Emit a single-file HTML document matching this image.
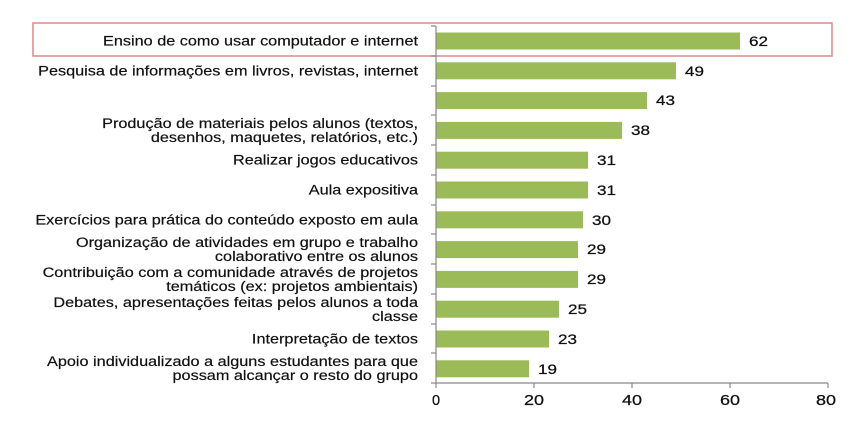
<!DOCTYPE html>
<html><head><meta charset="utf-8"><style>
html,body{margin:0;padding:0;background:#fff;}
svg{display:block;font-family:"Liberation Sans",Arial,sans-serif;}
</style></head><body>
<svg width="854" height="421" xmlns="http://www.w3.org/2000/svg">
<rect x="33" y="23" width="799" height="33" fill="none" stroke="#d98a8a" stroke-width="1.5"/>
<g fill="#9bbb59">
<rect x="436" y="32.5" width="304" height="17"/>
<rect x="436" y="62.3" width="240" height="17"/>
<rect x="436" y="92.1" width="211" height="17"/>
<rect x="436" y="121.9" width="186" height="17"/>
<rect x="436" y="151.7" width="152" height="17"/>
<rect x="436" y="181.5" width="152" height="17"/>
<rect x="436" y="211.3" width="147" height="17"/>
<rect x="436" y="241.1" width="142" height="17"/>
<rect x="436" y="270.9" width="142" height="17"/>
<rect x="436" y="300.7" width="123" height="17"/>
<rect x="436" y="330.5" width="113" height="17"/>
<rect x="436" y="360.3" width="93" height="17"/>
</g>
<g stroke="#888" stroke-width="1.2">
<line x1="436" y1="26" x2="436" y2="383"/>
<line x1="436" y1="383" x2="828" y2="383"/>
<line x1="431" y1="26" x2="436" y2="26"/><line x1="431" y1="56" x2="436" y2="56"/><line x1="431" y1="86" x2="436" y2="86"/><line x1="431" y1="115" x2="436" y2="115"/><line x1="431" y1="145" x2="436" y2="145"/><line x1="431" y1="175" x2="436" y2="175"/><line x1="431" y1="205" x2="436" y2="205"/><line x1="431" y1="234" x2="436" y2="234"/><line x1="431" y1="264" x2="436" y2="264"/><line x1="431" y1="294" x2="436" y2="294"/><line x1="431" y1="324" x2="436" y2="324"/><line x1="431" y1="353" x2="436" y2="353"/><line x1="431" y1="383" x2="436" y2="383"/>
<line x1="436" y1="383" x2="436" y2="388"/><line x1="534" y1="383" x2="534" y2="388"/><line x1="632" y1="383" x2="632" y2="388"/><line x1="730" y1="383" x2="730" y2="388"/><line x1="828" y1="383" x2="828" y2="388"/>
</g>
<g font-size="14" fill="#111" stroke="#111" stroke-width="0.25">
<text x="749" y="46" textLength="19" lengthAdjust="spacingAndGlyphs">62</text>
<text x="685" y="76" textLength="19" lengthAdjust="spacingAndGlyphs">49</text>
<text x="656" y="105" textLength="19" lengthAdjust="spacingAndGlyphs">43</text>
<text x="631" y="135" textLength="19" lengthAdjust="spacingAndGlyphs">38</text>
<text x="597" y="165" textLength="19" lengthAdjust="spacingAndGlyphs">31</text>
<text x="597" y="195" textLength="19" lengthAdjust="spacingAndGlyphs">31</text>
<text x="592" y="225" textLength="19" lengthAdjust="spacingAndGlyphs">30</text>
<text x="587" y="254" textLength="19" lengthAdjust="spacingAndGlyphs">29</text>
<text x="587" y="284" textLength="19" lengthAdjust="spacingAndGlyphs">29</text>
<text x="568" y="314" textLength="19" lengthAdjust="spacingAndGlyphs">25</text>
<text x="558" y="344" textLength="19" lengthAdjust="spacingAndGlyphs">23</text>
<text x="538" y="374" textLength="19" lengthAdjust="spacingAndGlyphs">19</text>
</g>
<g font-size="14.5" fill="#111" stroke="#111" stroke-width="0.25" text-anchor="middle">
<text x="436" y="405">0</text>
<text x="534" y="405" textLength="20" lengthAdjust="spacingAndGlyphs">20</text>
<text x="632" y="405" textLength="20" lengthAdjust="spacingAndGlyphs">40</text>
<text x="730" y="405" textLength="20" lengthAdjust="spacingAndGlyphs">60</text>
<text x="826" y="405" textLength="20" lengthAdjust="spacingAndGlyphs">80</text>
</g>
<g font-size="14" fill="#111" stroke="#111" stroke-width="0.2" text-anchor="end" transform="translate(418,0) scale(1.16,1) translate(-418,0)">
<text x="418" y="45.5">Ensino de como usar computador e internet</text>
<text x="418" y="75.5">Pesquisa de informações em livros, revistas, internet</text>
<text x="418" y="128">Produção de materiais pelos alunos (textos,</text>
<text x="418" y="142">desenhos, maquetes, relatórios, etc.)</text>
<text x="418" y="164.5">Realizar jogos educativos</text>
<text x="418" y="194.5">Aula expositiva</text>
<text x="418" y="224.5">Exercícios para prática do conteúdo exposto em aula</text>
<text x="418" y="247">Organização de atividades em grupo e trabalho</text>
<text x="418" y="261">colaborativo entre os alunos</text>
<text x="418" y="277">Contribuição com a comunidade através de projetos</text>
<text x="418" y="291">temáticos (ex: projetos ambientais)</text>
<text x="418" y="307">Debates, apresentações feitas pelos alunos a toda</text>
<text x="418" y="321">classe</text>
<text x="418" y="343.5">Interpretação de textos</text>
<text x="418" y="366">Apoio individualizado a alguns estudantes para que</text>
<text x="418" y="380">possam alcançar o resto do grupo</text>
</g>
</svg>
</body></html>
